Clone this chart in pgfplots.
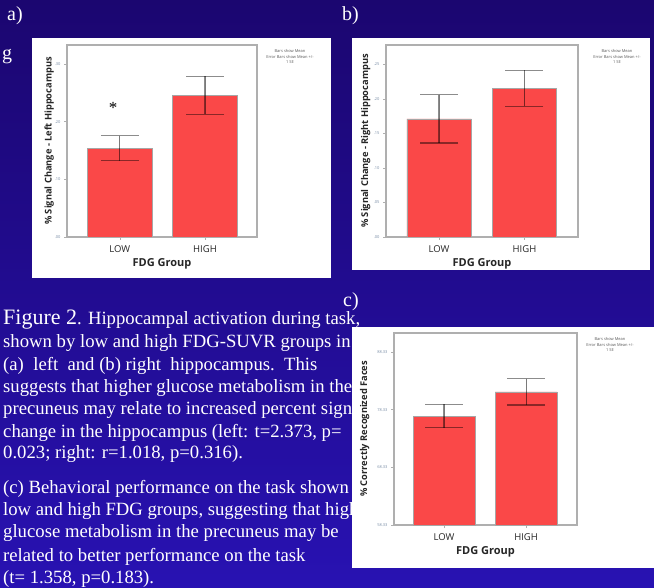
\documentclass[border=0pt]{standalone}
\usepackage{pgfplots}
\pgfplotsset{compat=1.18}
\usepackage{fontspec}
\setmainfont{Liberation Serif}
\setsansfont{Open Sans}
\definecolor{bgtop}{RGB}{27,6,112}
\definecolor{bgbot}{RGB}{40,18,178}
\definecolor{barred}{RGB}{250,72,72}
\definecolor{ticklab}{RGB}{120,140,165}
\definecolor{framec}{RGB}{175,175,175}
\pgfplotsset{spss/.style={
  scale only axis, height=192pt,
  axis line style={framec, line width=1.3pt},
  ybar, bar shift=0pt,
  xtick={0,1}, xticklabels={LOW,HIGH},
  xtick pos=left, ytick pos=left,
  tick align=outside, major tick length=3pt,
  tick style={framec, line width=0.6pt},
  yticklabel style={font=\sffamily\fontsize{4}{4}\selectfont, text=ticklab},
  xticklabel style={font=\sffamily\fontsize{9.5}{10}\selectfont, text=black!85, yshift=-2pt},
  xlabel={FDG Group},
  xlabel style={font=\sffamily\bfseries\fontsize{11}{12}\selectfont, text=black!85, at={(axis description cs:0.5,-0.14)}, anchor=center},
  ylabel style={font=\sffamily\bfseries\fontsize{9.3}{10}\selectfont, text=black!85, anchor=south},
  enlargelimits=false,
  error bars/y dir=both, error bars/y explicit,
  error bars/error mark=-,
  error bars/error bar style={line width=1.2pt, black, draw opacity=0.45},
  error bars/error mark options={rotate=90, mark size=19pt, line width=1.2pt, black, draw opacity=0.45},
}}
\newcommand{\spsslegend}{\parbox{80pt}{\centering\sffamily\fontsize{4}{5}\selectfont\color{black!65} Bars show Mean\\[1pt] Error Bars show Mean +/-\\ 1 SE}}
\begin{document}
\begin{tikzpicture}[x=1pt,y=1pt]
\shade[top color=bgtop, bottom color=bgbot] (0,0) rectangle (654,587);
\useasboundingbox (0,0) rectangle (654,587);
\coordinate (pa) at (67,350);
\coordinate (pb) at (386,350);
\coordinate (pc) at (394,62);
% labels
\node[anchor=base west, inner sep=0, text=white, font=\fontsize{20}{22}\selectfont] at (7,566) {a)};
\node[anchor=base west, inner sep=0, text=white, font=\fontsize{20}{22}\selectfont] at (342,566) {b)};
\node[anchor=base west, inner sep=0, text=white, font=\fontsize{20}{22}\selectfont] at (343,280) {c)};
\node[anchor=base west, inner sep=0, text=white, font=\fontsize{20}{22}\selectfont] at (2,527) {g};
% caption
\begin{scope}[every node/.style={anchor=base west, inner sep=0, text=white, font=\fontsize{18.7}{21}\selectfont}]
\node at (3,262) {{\fontsize{22}{24}\selectfont Figure 2}. Hippocampal activation during task,};
\node at (3,239) {shown by low and high FDG-SUVR groups in};
\node at (3,216) {(a)\ \ left\ \ and (b) right\ \ hippocampus.\ \ This};
\node at (3,194) {suggests that higher glucose metabolism in the};
\node at (3,172) {precuneus may relate to increased percent signal};
\node at (3,149) {change in the hippocampus (left: t=2.373, p=};
\node at (3,128) {0.023; right: r=1.018, p=0.316).};
\node at (3,93) {(c) Behavioral performance on the task shown};
\node at (3,71) {low and high FDG groups, suggesting that higher};
\node at (3,49) {glucose metabolism in the precuneus may be};
\node at (3,26) {related to better performance on the task};
\node at (3,4) {(t= 1.358, p=0.183).};
\end{scope}
% panels
\fill[white] (32,309) rectangle (331,549);
\fill[white] (352,317) rectangle (650,549);
\fill[white] (352,19) rectangle (654,260);
\node[anchor=north] at (290,541) {\spsslegend};
\node[anchor=north] at (617,541) {\spsslegend};
\node[anchor=north] at (610,253) {\spsslegend};
% panel a
\begin{axis}[spss, at={(pa)}, anchor=south west, width=190pt,
  xmin=-0.62, xmax=1.61, ymin=0, ymax=0.333, bar width=65pt,
  ytick={0,0.1,0.2,0.3}, yticklabels={.00,.10,.20,.30},
  ylabel={\% Signal Change - Left Hippocampus},
  ylabel style={at={(axis description cs:-0.05,0.5)}}]
\addplot[fill=barred, draw=black!35, line width=0.5pt] coordinates {(0,0.154) +- (0,0.022) (1,0.246) +- (0,0.033)};
\node[font=\fontsize{17}{17}\selectfont] at (axis cs:-0.08,0.224) {*};
\end{axis}
% panel b
\begin{axis}[spss, at={(pb)}, anchor=south west, width=192pt,
  xmin=-0.62, xmax=1.626, ymin=0, ymax=0.278, bar width=64.5pt,
  ytick={0,0.05,0.1,0.15,0.2,0.25}, yticklabels={.00,.05,.10,.15,.20,.25},
  ylabel={\% Signal Change - Right Hippocampus},
  ylabel style={at={(axis description cs:-0.063,0.5)}}]
\addplot[fill=barred, draw=black!35, line width=0.5pt] coordinates {(0,0.171) +- (0,0.035) (1,0.2155) +- (0,0.026)};
\end{axis}
% panel c
\begin{axis}[spss, at={(pc)}, anchor=south west, width=183pt,
  xmin=-0.61, xmax=1.62, ymin=58.33, ymax=91.66, bar width=62pt,
  ytick={58.33,68.33,78.33,88.33}, yticklabels={58.33,68.33,78.33,88.33},
  ylabel={\% Correctly Recognized Faces},
  ylabel style={at={(axis description cs:-0.115,0.5)}}]
\addplot[fill=barred, draw=black!35, line width=0.5pt] coordinates {(0,77.25) +- (0,2.05) (1,81.45) +- (0,2.3)};
\end{axis}
\end{tikzpicture}
\end{document}
